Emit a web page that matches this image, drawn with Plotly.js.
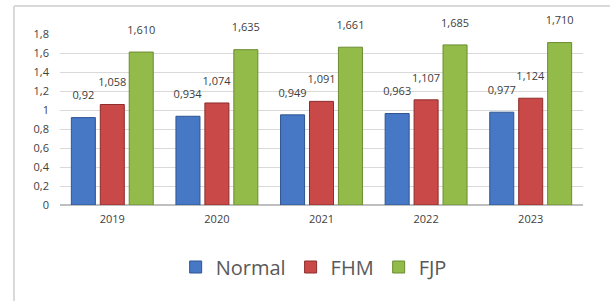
<!DOCTYPE html>
<html>
<head>
<meta charset="utf-8">
<script src="https://cdn.plot.ly/plotly-3.0.1.min.js"></script>
<style>html,body{margin:0;padding:0;background:#fff;}#chart{width:610px;height:301px;}</style>
</head>
<body>
<div id="chart"></div>
<script>
const years = ['2019', '2020', '2021', '2022', '2023'];
const normal = [0.92, 0.934, 0.949, 0.963, 0.977];
const fhm = [1.058, 1.074, 1.091, 1.107, 1.124];
const fjp = [1.610, 1.635, 1.661, 1.685, 1.710];
const yTickVals = [0, 0.2, 0.4, 0.6, 0.8, 1, 1.2, 1.4, 1.6, 1.8];
const yTickText = ['0', '0,2', '0,4', '0,6', '0,8', '1', '1,2', '1,4', '1,6', '1,8'];

function lbl(v, fixed) {
  const s = fixed ? v.toFixed(3) : String(v);
  return s.replace('.', ',') + "<br><span style='font-size:5px'> </span>";
}

const font = 'Open Sans, DejaVu Sans, sans-serif';
function mk(name, vals, fill, edge, fixed) {
  return {
    type: 'bar', name: name, x: years, y: vals,
    text: vals.map(v => lbl(v, fixed)),
    textposition: 'outside', cliponaxis: false, constraintext: 'none',
    textfont: {family: font, size: 11, color: '#404040'},
    marker: {color: fill, line: {color: edge, width: 1}},
    hoverinfo: 'x+y'
  };
}

const data = [
  mk('Normal', normal, '#4678c6', '#2f5592', false),
  mk('FHM', fhm, '#c94848', '#8e2d2b', true),
  mk('FJP', fjp, '#92bb4a', '#6b8d30', true)
];

const layout = {
  width: 610, height: 301,
  margin: {l: 60, r: 27, t: 34, b: 96},
  paper_bgcolor: '#ffffff', plot_bgcolor: '#ffffff',
  barmode: 'group', bargap: 0.17, bargroupgap: 0.17,
  showlegend: true,
  legend: {orientation: 'h', x: 0.485, xanchor: 'center', y: -0.3626, yanchor: 'middle',
           font: {family: font, size: 20, color: '#595959'}, itemwidth: 30, tracegroupgap: 0},
  xaxis: {type: 'category', showgrid: false, zeroline: false, showline: false,
          ticks: '', tickfont: {family: font, size: 11, color: '#404040'}, ticklabelstandoff: 6, fixedrange: true},
  yaxis: {range: [0, 1.8], tickvals: yTickVals, ticktext: yTickText, showgrid: true,
          gridcolor: '#d9d9d9', gridwidth: 1, zeroline: true, zerolinecolor: '#bfbfbf', zerolinewidth: 2,
          showline: false, ticks: '', tickfont: {family: font, size: 11, color: '#404040'}, ticklabelstandoff: 10, fixedrange: true},
  shapes: [
    {type: 'line', xref: 'paper', yref: 'paper', x0: -0.088, x1: 1.1, y0: 1.1637, y1: 1.1637, line: {color: '#d9d9d9', width: 2}},
    {type: 'line', xref: 'paper', yref: 'paper', x0: -0.088, x1: -0.088, y0: 1.1637, y1: -0.6, line: {color: '#d9d9d9', width: 2}}
  ]
};

Plotly.newPlot('chart', data, layout, {displayModeBar: false, staticPlot: true});
</script>
</body>
</html>
